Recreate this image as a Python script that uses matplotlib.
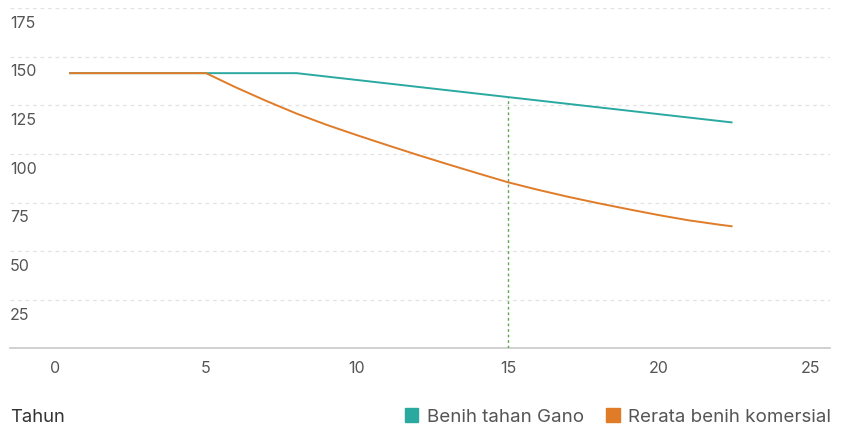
import matplotlib
matplotlib.use("Agg")
import matplotlib.pyplot as plt
from matplotlib.patches import Patch

# Data
TAHUN_GANO = [0.5, 8, 22.4]
NILAI_GANO = [141.5, 141.5, 116.2]

TAHUN_KOMERSIAL = [0.5, 5, 6, 7, 8, 9, 10, 11, 12, 13, 14, 15, 16, 17, 18, 19, 20, 21, 22, 22.4]
NILAI_KOMERSIAL = [141.5, 141.5, 134.1, 127.2, 120.7, 114.9, 109.6, 104.5, 99.5, 94.7,
                   90.0, 85.4, 81.5, 77.9, 74.6, 71.5, 68.5, 65.8, 63.6, 62.8]

MARKER_TAHUN = 15
MARKER_NILAI = 129.2

X_TICKS = [0, 5, 10, 15, 20, 25]
Y_TICKS = [25, 50, 75, 100, 125, 150, 175]

LABEL_GANO = "Benih tahan Gano"
LABEL_KOMERSIAL = "Rerata benih komersial"

TEAL = "#2aa9a1"
ORANGE = "#e07b27"
GREEN = "#5ea94f"
TEXT = "#555555"

plt.rcParams["font.family"] = ["Inter", "DejaVu Sans"]

fig = plt.figure(figsize=(8.46, 4.28), dpi=100)
ax = fig.add_axes([10 / 846, 1 - 348.4 / 428, 820 / 846, 340.4 / 428])

ax.set_xlim(-1.49, 25.66)
ax.set_ylim(0, 175)

# grid lines with labels just under them
for v in Y_TICKS:
    ax.axhline(v, color="#e2e2e2", lw=0.9, ls=(0, (3, 3)), zorder=0)
    ax.text(0.0, v - 4.0, str(v), transform=ax.get_yaxis_transform(), ha="left", va="top",
            fontsize=11.5, color=TEXT)
ax.axhline(0, color="#c8c8c8", lw=1.2, zorder=1, clip_on=False)

ax.plot(TAHUN_GANO, NILAI_GANO, color=TEAL, lw=1.4, zorder=3)
ax.plot(TAHUN_KOMERSIAL, NILAI_KOMERSIAL, color=ORANGE, lw=1.4, zorder=3)
ax.plot([MARKER_TAHUN, MARKER_TAHUN], [0, MARKER_NILAI], color=GREEN, lw=1.0,
        ls=(0, (2, 2)), zorder=2)

ax.set_yticks([])
ax.set_xticks(X_TICKS)
ax.set_xticklabels([str(x) for x in X_TICKS])
ax.tick_params(axis="x", length=0, pad=9, labelsize=11.5, labelcolor=TEXT)
for s in ax.spines.values():
    s.set_visible(False)

fig.text(10 / 846, 1 - 417 / 428, "Tahun", ha="left", va="center", fontsize=13.3, color="#333333")

handles = [Patch(facecolor=TEAL, edgecolor=TEAL), Patch(facecolor=ORANGE, edgecolor=ORANGE)]
fig.legend(handles, [LABEL_GANO, LABEL_KOMERSIAL], loc="center right",
           bbox_to_anchor=(831 / 846, 1 - 417 / 428), ncol=2, frameon=False,
           handlelength=0.7, handleheight=0.7, handletextpad=0.45, columnspacing=1.2,
           borderaxespad=0, borderpad=0, fontsize=13.5, labelcolor=TEXT)

fig.savefig("out.png", dpi=100)
